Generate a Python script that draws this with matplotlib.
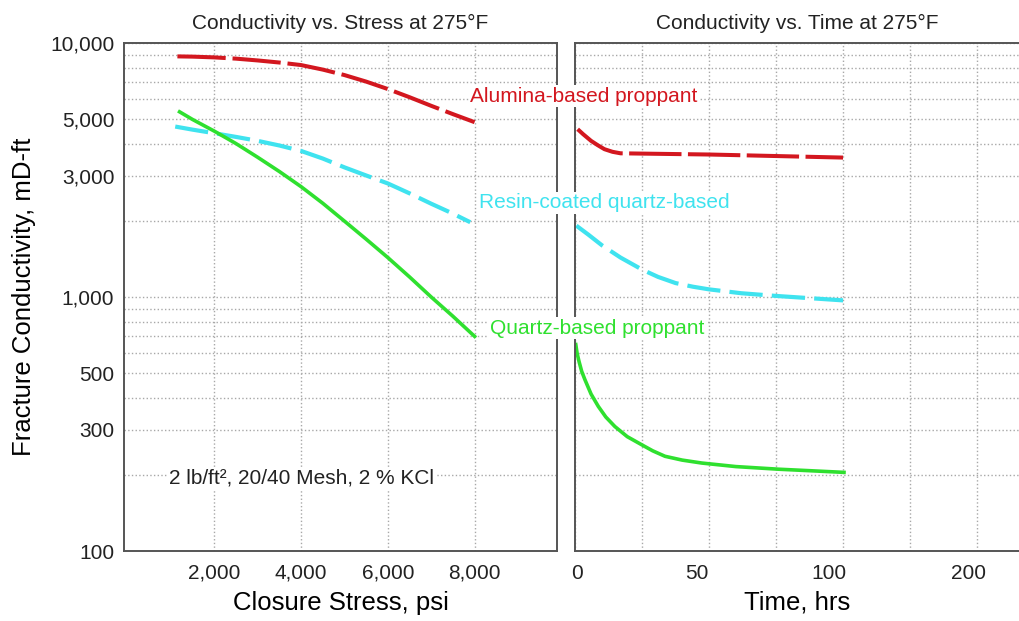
"""Fracture conductivity vs. closure stress and vs. time at 275 F."""

import matplotlib

matplotlib.use("Agg")
import matplotlib.pyplot as plt
import numpy as np
from matplotlib.ticker import FixedLocator, NullFormatter
from matplotlib.transforms import ScaledTranslation

# --- data ----------------------------------------------------------------
stress_alumina = [1150, 1500, 2000, 2500, 3000, 3500, 4000, 4500, 5000,
                  5500, 6000, 6500, 7000, 7500, 8000]
cond_alumina_stress = [8860, 8840, 8780, 8680, 8540, 8380, 8190, 7860, 7480,
                       7050, 6590, 6120, 5660, 5250, 4880]

stress_resin = [1100, 1500, 2000, 2500, 3000, 3500, 4000, 4500, 5000,
                5500, 6000, 6500, 7000, 7500, 7900]
cond_resin_stress = [4690, 4560, 4415, 4270, 4120, 3950, 3760, 3510, 3240,
                     3010, 2800, 2560, 2330, 2130, 1970]

stress_quartz = [1200, 1500, 2000, 2500, 3000, 3500, 4000, 4500, 5000,
                 5500, 6000, 6500, 7000, 7500, 8000]
cond_quartz_stress = [5360, 5000, 4500, 4020, 3550, 3120, 2720, 2340, 1990,
                      1690, 1430, 1200, 1000, 840, 700]

time_alumina = [1, 3, 6, 8.5, 11, 14, 17, 25, 50, 75, 100]
cond_alumina_time = [4580, 4380, 4120, 3960, 3820, 3730, 3680, 3670, 3640,
                     3590, 3540]

time_resin = [0.5, 5, 10, 17, 25, 31, 37.5, 44, 50, 62, 75, 100]
cond_resin_time = [1910, 1760, 1600, 1430, 1283, 1200, 1135, 1098, 1072,
                   1035, 1010, 970]

time_quartz = [0.3, 0.8, 1.5, 2.5, 3.7, 6, 8.7, 11.5, 14.9, 19.5, 24.9, 29,
               33.6, 40, 47.3, 60, 75.7, 88, 100.7]
cond_quartz_time = [650, 600, 558, 510, 473, 415, 371, 337, 309, 282, 262,
                    248, 236, 228, 222, 215, 210, 207, 204]

y_ticks = [100, 300, 500, 1000, 3000, 5000, 10000]
y_tick_labels = ["100", "300", "500", "1,000", "3,000", "5,000", "10,000"]
stress_ticks = [2000, 4000, 6000, 8000]
stress_tick_labels = ["2,000", "4,000", "6,000", "8,000"]
time_ticks = [0, 50, 100, 200]
time_tick_labels = ["0", "50", "100", "200"]
time_minor = [25, 75, 150]

RED = "#d3171f"
CYAN = "#3fe3ef"
GREEN = "#2fe02f"
SPINE = "#555555"
GRID = "#a8a8a8"

plt.rcParams["font.family"] = ["Liberation Sans", "DejaVu Sans"]
plt.rcParams["text.color"] = "#222222"
plt.rcParams["xtick.color"] = "#222222"
plt.rcParams["ytick.color"] = "#222222"


def _time_forward(t):
    t = np.asarray(t, dtype=float)
    return np.where(t <= 100, t, 100 + (t - 100) / 2)


def _time_inverse(u):
    u = np.asarray(u, dtype=float)
    return np.where(u <= 100, u, 100 + (u - 100) * 2)


def _style_axes(ax):
    ax.set_yscale("log")
    ax.set_ylim(100, 10000)
    ax.yaxis.set_major_locator(FixedLocator(y_ticks))
    ax.yaxis.set_minor_locator(
        FixedLocator([m * d for d in (100, 1000) for m in range(2, 10)])
    )
    ax.yaxis.set_minor_formatter(NullFormatter())
    ax.grid(which="both", color=GRID, linestyle=":", linewidth=1.0)
    ax.tick_params(which="both", length=0)
    ax.tick_params(axis="x", labelsize=15, pad=9)
    ax.tick_params(axis="y", labelsize=15, pad=7)
    for spine in ax.spines.values():
        spine.set_color(SPINE)
        spine.set_linewidth(1.4)


fig = plt.figure(figsize=(10.2, 6.21), dpi=100)
ax_s = fig.add_axes([0.1216, 0.1127, 0.4245, 0.818])
ax_t = fig.add_axes([0.5637, 0.1127, 0.4363, 0.818])

# left: conductivity vs stress
_style_axes(ax_s)
ax_s.set_xlim(-80, 9900)
ax_s.set_xticks(stress_ticks, labels=stress_tick_labels)
ax_s.set_yticks(y_ticks, labels=y_tick_labels)
ax_s.plot(stress_alumina, cond_alumina_stress, color=RED, lw=2.9,
          linestyle=(0, (12, 1.7)), dash_capstyle="butt")
ax_s.plot(stress_resin, cond_resin_stress, color=CYAN, lw=3.0,
          linestyle=(0, (8, 2.2)), dash_capstyle="butt")
ax_s.plot(stress_quartz, cond_quartz_stress, color=GREEN, lw=2.6)
ax_s.set_title("Conductivity vs. Stress at 275°F", fontsize=15, pad=10)
ax_s.set_xlabel("Closure Stress, psi", fontsize=18.5, labelpad=6)
ax_s.set_ylabel("Fracture Conductivity, mD-ft", fontsize=18.5, labelpad=10)
ax_s.text(0.411, 0.144, "2 lb/ft², 20/40 Mesh, 2 % KCl", transform=ax_s.transAxes,
          fontsize=15, ha="center", va="center",
          bbox=dict(facecolor="white", edgecolor="none", pad=1))

# right: conductivity vs time
_style_axes(ax_t)
ax_t.set_xscale("function", functions=(_time_forward, _time_inverse))
ax_t.set_xlim(0, 232)
ax_t.xaxis.set_major_locator(FixedLocator(time_ticks))
ax_t.xaxis.set_minor_locator(FixedLocator(time_minor))
ax_t.set_xticklabels(time_tick_labels)
ax_t.xaxis.set_minor_formatter(NullFormatter())
ax_t.set_yticks(y_ticks, labels=[""] * len(y_ticks))
ax_t.spines["right"].set_visible(False)
ax_t.plot(time_alumina, cond_alumina_time, color=RED, lw=2.9,
          linestyle=(0, (13, 1.6)), dash_capstyle="butt")
ax_t.plot(time_resin, cond_resin_time, color=CYAN, lw=3.0,
          linestyle=(0, (8, 2.2)), dash_capstyle="butt")
ax_t.plot(time_quartz, cond_quartz_time, color=GREEN, lw=2.6)
ax_t.set_title("Conductivity vs. Time at 275°F", fontsize=15, pad=10)
ax_t.set_xlabel("Time, hrs", fontsize=18.5, labelpad=6)

# the original's time labels sit a little left of their grid lines
label_shift_px = [2, -12, -14, -9]
for tick_label, shift in zip(ax_t.get_xticklabels(), label_shift_px):
    tick_label.set_transform(
        tick_label.get_transform() + ScaledTranslation(shift / 100, 0, fig.dpi_scale_trans)
    )

# curve labels straddling the two panels
label_box = dict(facecolor="white", edgecolor="none", pad=1)
fig.text(584 / 1020, 1 - 96 / 621, "Alumina-based proppant", color=RED,
         fontsize=15, ha="center", va="center", bbox=label_box)
fig.text(604 / 1020, 1 - 203 / 621, "Resin-coated quartz-based", color=CYAN,
         fontsize=15, ha="center", va="center", bbox=label_box)
fig.text(597 / 1020, 1 - 328 / 621, "Quartz-based proppant", color=GREEN,
         fontsize=15, ha="center", va="center", bbox=label_box)

fig.savefig("out.png", dpi=100)
